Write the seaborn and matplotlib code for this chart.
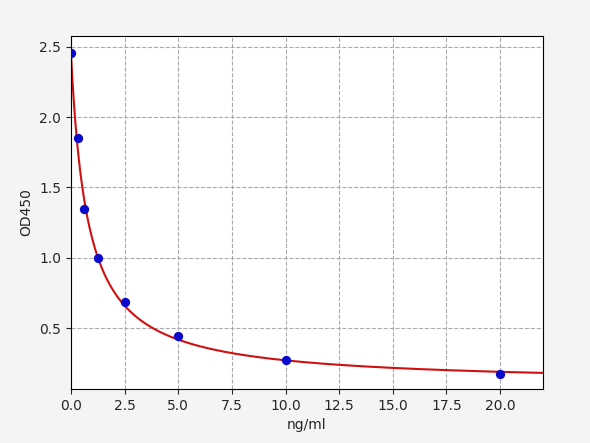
import numpy as np
import pandas as pd
import matplotlib
matplotlib.use("Agg")
import matplotlib.pyplot as plt
import seaborn as sns

# Standard points
conc = [0.0, 0.3125, 0.625, 1.25, 2.5, 5.0, 10.0, 20.0]
od450 = [2.455, 1.85, 1.35, 1.0, 0.685, 0.44, 0.27, 0.17]

# Fitted 4PL curve parameters
fit_top = 2.45
fit_bottom = 0.10
fit_ec50 = 0.78
fit_slope = 1.0

sns.set_style("white")
plt.rcParams['font.family'] = ['DejaVu Sans']

fig = plt.figure(figsize=(5.9, 4.43), dpi=100, facecolor="#f4f4f4")
ax = fig.add_axes([71/590, 1-389/443, (543-71)/590, (389-36)/443])
ax.set_facecolor("white")

xs = np.linspace(0, 22, 600)
ys = fit_bottom + (fit_top - fit_bottom) / (1 + (xs / fit_ec50) ** fit_slope)
curve = pd.DataFrame({"x": xs, "y": ys})
pts = pd.DataFrame({"x": conc, "y": od450})

sns.lineplot(data=curve, x="x", y="y", ax=ax, color="#d01010", linewidth=1.5, zorder=2)
sns.scatterplot(data=pts, x="x", y="y", ax=ax, color="#0a0acc", s=45, edgecolor="#0a0acc", linewidth=0, zorder=3)

ax.set_xlim(0, 22)
ax.set_ylim(0.066, 2.578)
ax.set_xticks(np.arange(0, 22.5, 2.5))
ax.set_yticks([0.5, 1.0, 1.5, 2.0, 2.5])
ax.grid(True, linestyle="--", color="#aaaaaa", linewidth=0.8)
ax.set_xlabel("ng/ml", fontsize=10)
ax.set_ylabel("OD450", fontsize=10)
ax.tick_params(axis="both", which="both", labelsize=10, length=3.5, width=0.8, direction="out", bottom=True, left=True)
for s in ax.spines.values():
    s.set_color("black")
    s.set_linewidth(0.8)

fig.savefig("out.png", dpi=100, facecolor=fig.get_facecolor())
